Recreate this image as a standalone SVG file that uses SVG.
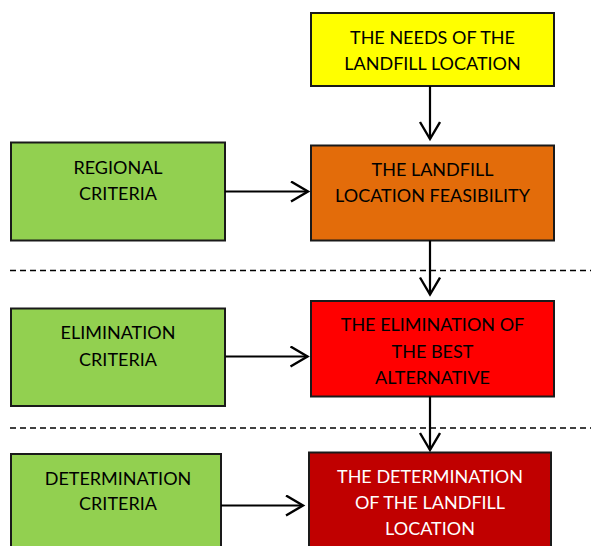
<svg xmlns="http://www.w3.org/2000/svg" width="591" height="546" viewBox="0 0 591 546">
<defs>
<style>
.box{stroke:#1a1a1a;stroke-width:2}
.t{font-family:Lato,"Open Sans","Liberation Sans",sans-serif;font-size:18px;text-anchor:middle;fill:#000}
.w{fill:#fff}
.c{stroke:#000;stroke-width:2.2;fill:none}
.d{stroke:#000;stroke-width:1.6;stroke-dasharray:6 4;fill:none}
</style>
<marker id="ah" markerWidth="22" markerHeight="24" refX="19" refY="11" orient="auto" markerUnits="userSpaceOnUse">
<path d="M2,1 L19,11 L2,21" fill="none" stroke="#000" stroke-width="2.4"/>
</marker>
</defs>
<g id="needs">
<rect class="box" x="311" y="13" width="243" height="73" fill="#FFFF00"/>
<text class="t" x="432.5" y="44">THE NEEDS OF THE</text>
<text class="t" x="432.5" y="69.5">LANDFILL LOCATION</text>
</g>
<g id="regional">
<rect class="box" x="11" y="142.5" width="214" height="98" fill="#92D050"/>
<text class="t" x="118" y="173.5">REGIONAL</text>
<text class="t" x="118" y="199.5">CRITERIA</text>
</g>
<g id="feasibility">
<rect class="box" x="311" y="145.5" width="243" height="95" fill="#E36C0A"/>
<text class="t" x="432.5" y="175.5">THE LANDFILL</text>
<text class="t" x="432.5" y="202">LOCATION FEASIBILITY</text>
</g>
<g id="elimcrit">
<rect class="box" x="11" y="308.5" width="214" height="97.5" fill="#92D050"/>
<text class="t" x="118" y="338.5">ELIMINATION</text>
<text class="t" x="118" y="365.5">CRITERIA</text>
</g>
<g id="elimination">
<rect class="box" x="311" y="301" width="243" height="95.5" fill="#FF0000"/>
<text class="t" x="432.5" y="331">THE ELIMINATION OF</text>
<text class="t" x="432.5" y="357.5">THE BEST</text>
<text class="t" x="432.5" y="383.5">ALTERNATIVE</text>
</g>
<g id="detcrit">
<rect class="box" x="11" y="454" width="210" height="100" fill="#92D050"/>
<text class="t" x="118" y="485">DETERMINATION</text>
<text class="t" x="118" y="510">CRITERIA</text>
</g>
<g id="determination">
<rect class="box" x="309" y="452.5" width="242" height="100" fill="#C00000"/>
<text class="t w" x="430" y="483">THE DETERMINATION</text>
<text class="t w" x="430" y="509">OF THE LANDFILL</text>
<text class="t w" x="430" y="535">LOCATION</text>
</g>
<g id="connectors">
<line class="d" x1="10" y1="270.5" x2="591" y2="270.5"/>
<line class="d" x1="10" y1="428" x2="591" y2="428"/>
<line class="c" x1="430" y1="86" x2="430" y2="139" marker-end="url(#ah)"/>
<line class="c" x1="225" y1="191.5" x2="308" y2="191.5" marker-end="url(#ah)"/>
<line class="c" x1="430" y1="240.5" x2="430" y2="294.5" marker-end="url(#ah)"/>
<line class="c" x1="225.5" y1="356.5" x2="307.5" y2="356.5" marker-end="url(#ah)"/>
<line class="c" x1="430" y1="396.5" x2="430" y2="450" marker-end="url(#ah)"/>
<line class="c" x1="221" y1="505.5" x2="303" y2="505.5" marker-end="url(#ah)"/>
</g>
</svg>
